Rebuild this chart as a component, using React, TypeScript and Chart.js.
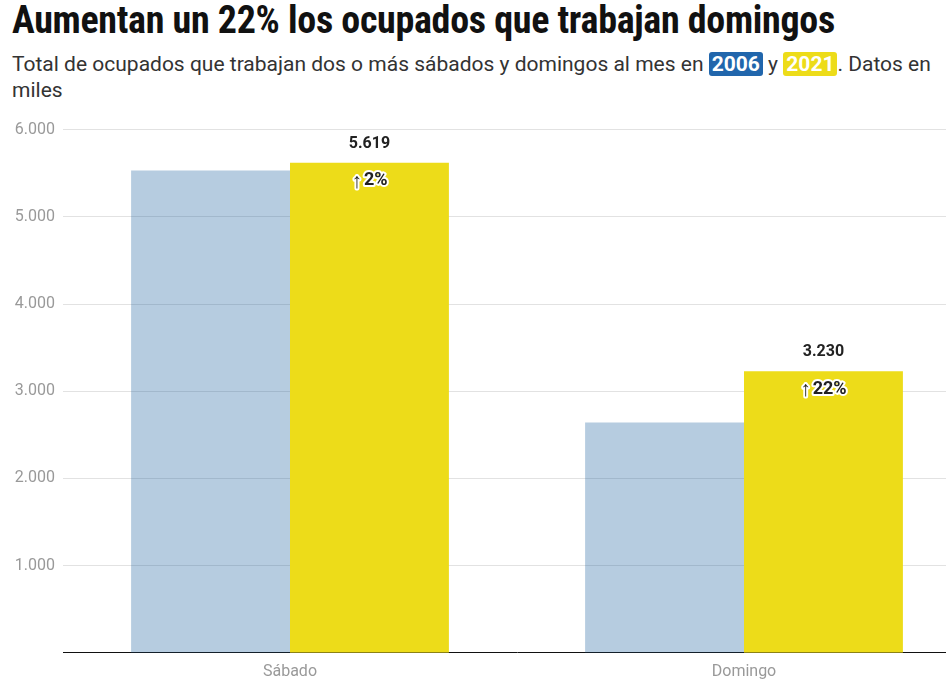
import React, { useEffect, useRef } from 'react';
import { Chart, registerables } from 'chart.js';

Chart.register(...registerables);

const categories = ['Sábado', 'Domingo'];
const values2006 = [5530, 2640];
const values2021 = [5619, 3230];
const yTicks = [1000, 2000, 3000, 4000, 5000, 6000];

const BLUE = '#2166ac';
const YELLOW = '#eddc19';

const fmt = (n: number) => Math.round(n).toString().replace(/\B(?=(\d{3})+(?!\d))/g, '.');

const barLabels = {
  id: 'barLabels',
  afterDatasetsDraw(chart: Chart) {
    const ctx = chart.ctx;
    const meta = chart.getDatasetMeta(1);
    ctx.save();
    ctx.textBaseline = 'middle';
    meta.data.forEach((bar: any, i: number) => {
      const v = values2021[i];
      ctx.textAlign = 'center';
      ctx.font = 'bold 16px Roboto';
      ctx.fillStyle = '#222';
      ctx.fillText(fmt(v), bar.x, bar.y - 19);

      // percentage change against 2006, with a white halo
      const pct = Math.round((v / values2006[i] - 1) * 100);
      const arrow = '↑';
      const txt = pct + '%';
      const arrowFont = '21px "Liberation Sans"';
      const txtFont = 'bold 18px Roboto';
      ctx.font = arrowFont;
      const aw = ctx.measureText(arrow).width;
      ctx.font = txtFont;
      const tw = ctx.measureText(txt).width;
      const gap = 2;
      const x0 = bar.x - (aw + gap + tw) / 2;
      const y = bar.y + 18;
      ctx.textAlign = 'left';
      ctx.lineJoin = 'round';
      ctx.lineWidth = 4;
      ctx.strokeStyle = '#fff';
      ctx.fillStyle = '#222';
      ctx.font = arrowFont;
      ctx.strokeText(arrow, x0, y + 1);
      ctx.fillText(arrow, x0, y + 1);
      ctx.font = txtFont;
      ctx.strokeText(txt, x0 + aw + gap, y);
      ctx.fillText(txt, x0 + aw + gap, y);
    });
    ctx.restore();
  },
};

const App: React.FC = () => {
  const chartRef = useRef<HTMLCanvasElement | null>(null);
  const chartInstance = useRef<Chart | null>(null);

  useEffect(() => {
    document.body.style.margin = '0';
    document.body.style.overflow = 'hidden';
    if (!chartRef.current) return;
    if (chartInstance.current) chartInstance.current.destroy();

    chartInstance.current = new Chart(chartRef.current, {
      type: 'bar',
      data: {
        labels: categories,
        datasets: [
          { label: '2006', data: values2006, backgroundColor: 'rgba(33, 100, 160, 0.33)' },
          { label: '2021', data: values2021, backgroundColor: YELLOW },
        ],
      },
      options: {
        animation: false,
        responsive: true,
        maintainAspectRatio: false,
        layout: { padding: { top: 14, right: 0, left: 0, bottom: 0 } },
        datasets: { bar: { barPercentage: 1, categoryPercentage: 0.7 } },
        scales: {
          x: {
            grid: { display: false },
            border: { display: true, color: '#111', width: 1 },
            ticks: { color: '#999', font: { family: 'Roboto', size: 16 }, padding: 2 },
          },
          y: {
            min: 0,
            max: 6000,
            afterFit: (scale: any) => { scale.width = 63; },
            afterBuildTicks: (scale: any) => { scale.ticks = yTicks.map((v) => ({ value: v })); },
            grid: { color: '#e2e2e2', drawTicks: false, lineWidth: 1 },
            border: { display: false },
            ticks: {
              color: '#999',
              font: { family: 'Roboto', size: 16 },
              padding: 8,
              callback: (v: any) => fmt(Number(v)),
            },
          },
        },
        plugins: {
          legend: { display: false },
          tooltip: { enabled: false },
        },
      },
      plugins: [barLabels],
    });

    return () => {
      if (chartInstance.current) {
        chartInstance.current.destroy();
        chartInstance.current = null;
      }
    };
  }, []);

  const tag = (bg: string): React.CSSProperties => ({
    background: bg,
    color: '#fff',
    fontWeight: 'bold',
    borderRadius: 3,
    padding: '0 3px',
  });

  return (
    <div style={{ position: 'relative', width: 946, height: 688, overflow: 'hidden', fontFamily: 'Roboto, sans-serif' }}>
      <div style={{ position: 'absolute', left: 12, top: 0, right: 8 }}>
        <div style={{ fontSize: 38, fontWeight: 'bold', color: '#111', lineHeight: '40px', fontStretch: 'condensed', letterSpacing: -0.3 }}>
          Aumentan un 22% los ocupados que trabajan domingos
        </div>
        <div style={{ fontSize: 21, color: '#333', lineHeight: '26px', marginTop: 11 }}>
          Total de ocupados que trabajan dos o más sábados y domingos al mes en <span style={tag(BLUE)}>2006</span> y{' '}
          <span style={tag(YELLOW)}>2021</span>. Datos en miles
        </div>
      </div>
      <div style={{ position: 'absolute', left: 0, top: 112, width: 971, height: 572 }}>
        <canvas ref={chartRef} />
      </div>
    </div>
  );
};

export default App;
